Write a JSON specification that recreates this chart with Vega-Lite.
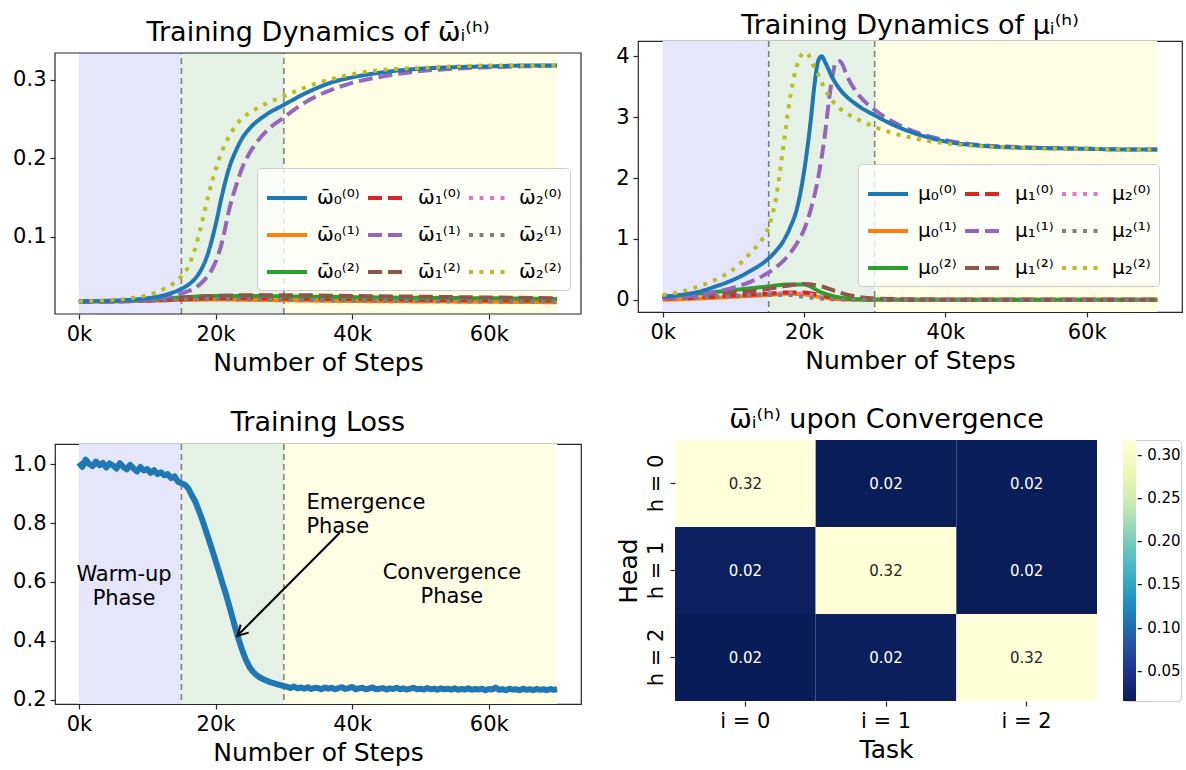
{
"$schema": "https://vega.github.io/schema/vega-lite/v6.json",
"background": "white",
"padding": {"left": 12, "top": 11, "right": 0, "bottom": 0},
"datasets": {
"phases": [
{"x": 0, "x2": 15000, "p": "warm"},
{"x": 15000, "x2": 30000, "p": "emerge"},
{"x": 30000, "x2": 70000, "p": "conv"}
],
"frame": [{"x": -3500, "x2": 73500}],
"splits": [{"x": 15000}, {"x": 30000}],
"omega": [
{"s":"ω̄₀⁽¹⁾","x":0,"y":0.018},{"s":"ω̄₀⁽¹⁾","x":5000,"y":0.018},{"s":"ω̄₀⁽¹⁾","x":10000,"y":0.019},{"s":"ω̄₀⁽¹⁾","x":15000,"y":0.020},{"s":"ω̄₀⁽¹⁾","x":20000,"y":0.0205},{"s":"ω̄₀⁽¹⁾","x":25000,"y":0.020},{"s":"ω̄₀⁽¹⁾","x":30000,"y":0.0195},{"s":"ω̄₀⁽¹⁾","x":40000,"y":0.0185},{"s":"ω̄₀⁽¹⁾","x":50000,"y":0.018},{"s":"ω̄₀⁽¹⁾","x":60000,"y":0.0175},{"s":"ω̄₀⁽¹⁾","x":70000,"y":0.017},
{"s":"ω̄₁⁽⁰⁾","x":0,"y":0.018},{"s":"ω̄₁⁽⁰⁾","x":5000,"y":0.018},{"s":"ω̄₁⁽⁰⁾","x":10000,"y":0.019},{"s":"ω̄₁⁽⁰⁾","x":15000,"y":0.0205},{"s":"ω̄₁⁽⁰⁾","x":20000,"y":0.022},{"s":"ω̄₁⁽⁰⁾","x":25000,"y":0.022},{"s":"ω̄₁⁽⁰⁾","x":30000,"y":0.0215},{"s":"ω̄₁⁽⁰⁾","x":40000,"y":0.021},{"s":"ω̄₁⁽⁰⁾","x":50000,"y":0.020},{"s":"ω̄₁⁽⁰⁾","x":60000,"y":0.0195},{"s":"ω̄₁⁽⁰⁾","x":70000,"y":0.019},
{"s":"ω̄₂⁽⁰⁾","x":0,"y":0.018},{"s":"ω̄₂⁽⁰⁾","x":5000,"y":0.018},{"s":"ω̄₂⁽⁰⁾","x":10000,"y":0.019},{"s":"ω̄₂⁽⁰⁾","x":15000,"y":0.020},{"s":"ω̄₂⁽⁰⁾","x":20000,"y":0.021},{"s":"ω̄₂⁽⁰⁾","x":25000,"y":0.021},{"s":"ω̄₂⁽⁰⁾","x":30000,"y":0.0205},{"s":"ω̄₂⁽⁰⁾","x":40000,"y":0.020},{"s":"ω̄₂⁽⁰⁾","x":50000,"y":0.0195},{"s":"ω̄₂⁽⁰⁾","x":60000,"y":0.019},{"s":"ω̄₂⁽⁰⁾","x":70000,"y":0.0185},
{"s":"ω̄₀⁽²⁾","x":0,"y":0.018},{"s":"ω̄₀⁽²⁾","x":5000,"y":0.0185},{"s":"ω̄₀⁽²⁾","x":10000,"y":0.020},{"s":"ω̄₀⁽²⁾","x":15000,"y":0.023},{"s":"ω̄₀⁽²⁾","x":20000,"y":0.025},{"s":"ω̄₀⁽²⁾","x":25000,"y":0.025},{"s":"ω̄₀⁽²⁾","x":30000,"y":0.0245},{"s":"ω̄₀⁽²⁾","x":40000,"y":0.0235},{"s":"ω̄₀⁽²⁾","x":50000,"y":0.0225},{"s":"ω̄₀⁽²⁾","x":60000,"y":0.022},{"s":"ω̄₀⁽²⁾","x":70000,"y":0.021},
{"s":"ω̄₁⁽²⁾","x":0,"y":0.018},{"s":"ω̄₁⁽²⁾","x":5000,"y":0.0185},{"s":"ω̄₁⁽²⁾","x":10000,"y":0.020},{"s":"ω̄₁⁽²⁾","x":15000,"y":0.023},{"s":"ω̄₁⁽²⁾","x":20000,"y":0.025},{"s":"ω̄₁⁽²⁾","x":25000,"y":0.026},{"s":"ω̄₁⁽²⁾","x":30000,"y":0.026},{"s":"ω̄₁⁽²⁾","x":40000,"y":0.025},{"s":"ω̄₁⁽²⁾","x":50000,"y":0.024},{"s":"ω̄₁⁽²⁾","x":60000,"y":0.023},{"s":"ω̄₁⁽²⁾","x":70000,"y":0.022},
{"s":"ω̄₂⁽¹⁾","x":0,"y":0.018},{"s":"ω̄₂⁽¹⁾","x":5000,"y":0.018},{"s":"ω̄₂⁽¹⁾","x":10000,"y":0.019},{"s":"ω̄₂⁽¹⁾","x":15000,"y":0.020},{"s":"ω̄₂⁽¹⁾","x":20000,"y":0.021},{"s":"ω̄₂⁽¹⁾","x":25000,"y":0.0205},{"s":"ω̄₂⁽¹⁾","x":30000,"y":0.020},{"s":"ω̄₂⁽¹⁾","x":40000,"y":0.019},{"s":"ω̄₂⁽¹⁾","x":50000,"y":0.0185},{"s":"ω̄₂⁽¹⁾","x":60000,"y":0.018},{"s":"ω̄₂⁽¹⁾","x":70000,"y":0.018},
{"s":"ω̄₁⁽¹⁾","x":0,"y":0.018},{"s":"ω̄₁⁽¹⁾","x":2500,"y":0.018},{"s":"ω̄₁⁽¹⁾","x":5000,"y":0.0185},{"s":"ω̄₁⁽¹⁾","x":7500,"y":0.019},{"s":"ω̄₁⁽¹⁾","x":10000,"y":0.020},{"s":"ω̄₁⁽¹⁾","x":12500,"y":0.023},{"s":"ω̄₁⁽¹⁾","x":15000,"y":0.028},{"s":"ω̄₁⁽¹⁾","x":16000,"y":0.031},{"s":"ω̄₁⁽¹⁾","x":17000,"y":0.035},{"s":"ω̄₁⁽¹⁾","x":18000,"y":0.042},{"s":"ω̄₁⁽¹⁾","x":19000,"y":0.052},{"s":"ω̄₁⁽¹⁾","x":20000,"y":0.068},{"s":"ω̄₁⁽¹⁾","x":21000,"y":0.095},{"s":"ω̄₁⁽¹⁾","x":22000,"y":0.135},{"s":"ω̄₁⁽¹⁾","x":23000,"y":0.165},{"s":"ω̄₁⁽¹⁾","x":24000,"y":0.190},{"s":"ω̄₁⁽¹⁾","x":25000,"y":0.207},{"s":"ω̄₁⁽¹⁾","x":27500,"y":0.235},{"s":"ω̄₁⁽¹⁾","x":30000,"y":0.252},{"s":"ω̄₁⁽¹⁾","x":32500,"y":0.268},{"s":"ω̄₁⁽¹⁾","x":35000,"y":0.280},{"s":"ω̄₁⁽¹⁾","x":37500,"y":0.289},{"s":"ω̄₁⁽¹⁾","x":40000,"y":0.296},{"s":"ω̄₁⁽¹⁾","x":45000,"y":0.305},{"s":"ω̄₁⁽¹⁾","x":50000,"y":0.311},{"s":"ω̄₁⁽¹⁾","x":55000,"y":0.314},{"s":"ω̄₁⁽¹⁾","x":60000,"y":0.316},{"s":"ω̄₁⁽¹⁾","x":65000,"y":0.317},{"s":"ω̄₁⁽¹⁾","x":70000,"y":0.318},
{"s":"ω̄₀⁽⁰⁾","x":0,"y":0.018},{"s":"ω̄₀⁽⁰⁾","x":2500,"y":0.0185},{"s":"ω̄₀⁽⁰⁾","x":5000,"y":0.019},{"s":"ω̄₀⁽⁰⁾","x":7500,"y":0.020},{"s":"ω̄₀⁽⁰⁾","x":10000,"y":0.022},{"s":"ω̄₀⁽⁰⁾","x":12500,"y":0.026},{"s":"ω̄₀⁽⁰⁾","x":15000,"y":0.034},{"s":"ω̄₀⁽⁰⁾","x":16000,"y":0.039},{"s":"ω̄₀⁽⁰⁾","x":17000,"y":0.047},{"s":"ω̄₀⁽⁰⁾","x":18000,"y":0.060},{"s":"ω̄₀⁽⁰⁾","x":19000,"y":0.082},{"s":"ω̄₀⁽⁰⁾","x":20000,"y":0.115},{"s":"ω̄₀⁽⁰⁾","x":21000,"y":0.155},{"s":"ω̄₀⁽⁰⁾","x":22000,"y":0.188},{"s":"ω̄₀⁽⁰⁾","x":23000,"y":0.210},{"s":"ω̄₀⁽⁰⁾","x":24000,"y":0.227},{"s":"ω̄₀⁽⁰⁾","x":25000,"y":0.238},{"s":"ω̄₀⁽⁰⁾","x":27500,"y":0.256},{"s":"ω̄₀⁽⁰⁾","x":30000,"y":0.268},{"s":"ω̄₀⁽⁰⁾","x":32500,"y":0.280},{"s":"ω̄₀⁽⁰⁾","x":35000,"y":0.290},{"s":"ω̄₀⁽⁰⁾","x":37500,"y":0.298},{"s":"ω̄₀⁽⁰⁾","x":40000,"y":0.303},{"s":"ω̄₀⁽⁰⁾","x":45000,"y":0.310},{"s":"ω̄₀⁽⁰⁾","x":50000,"y":0.314},{"s":"ω̄₀⁽⁰⁾","x":55000,"y":0.316},{"s":"ω̄₀⁽⁰⁾","x":60000,"y":0.317},{"s":"ω̄₀⁽⁰⁾","x":65000,"y":0.318},{"s":"ω̄₀⁽⁰⁾","x":70000,"y":0.318},
{"s":"ω̄₂⁽²⁾","x":0,"y":0.018},{"s":"ω̄₂⁽²⁾","x":2500,"y":0.019},{"s":"ω̄₂⁽²⁾","x":5000,"y":0.020},{"s":"ω̄₂⁽²⁾","x":7500,"y":0.022},{"s":"ω̄₂⁽²⁾","x":10000,"y":0.026},{"s":"ω̄₂⁽²⁾","x":12500,"y":0.034},{"s":"ω̄₂⁽²⁾","x":15000,"y":0.050},{"s":"ω̄₂⁽²⁾","x":16000,"y":0.062},{"s":"ω̄₂⁽²⁾","x":17000,"y":0.085},{"s":"ω̄₂⁽²⁾","x":18000,"y":0.118},{"s":"ω̄₂⁽²⁾","x":19000,"y":0.155},{"s":"ω̄₂⁽²⁾","x":20000,"y":0.185},{"s":"ω̄₂⁽²⁾","x":21000,"y":0.210},{"s":"ω̄₂⁽²⁾","x":22000,"y":0.228},{"s":"ω̄₂⁽²⁾","x":23000,"y":0.242},{"s":"ω̄₂⁽²⁾","x":24000,"y":0.252},{"s":"ω̄₂⁽²⁾","x":25000,"y":0.258},{"s":"ω̄₂⁽²⁾","x":27500,"y":0.270},{"s":"ω̄₂⁽²⁾","x":30000,"y":0.279},{"s":"ω̄₂⁽²⁾","x":32500,"y":0.288},{"s":"ω̄₂⁽²⁾","x":35000,"y":0.296},{"s":"ω̄₂⁽²⁾","x":37500,"y":0.302},{"s":"ω̄₂⁽²⁾","x":40000,"y":0.307},{"s":"ω̄₂⁽²⁾","x":45000,"y":0.313},{"s":"ω̄₂⁽²⁾","x":50000,"y":0.315},{"s":"ω̄₂⁽²⁾","x":55000,"y":0.317},{"s":"ω̄₂⁽²⁾","x":60000,"y":0.318},{"s":"ω̄₂⁽²⁾","x":65000,"y":0.318},{"s":"ω̄₂⁽²⁾","x":70000,"y":0.318}
],
"mu": [
{"s":"μ₀⁽¹⁾","x":0,"y":0.0},{"s":"μ₀⁽¹⁾","x":5000,"y":0.02},{"s":"μ₀⁽¹⁾","x":10000,"y":0.05},{"s":"μ₀⁽¹⁾","x":15000,"y":0.08},{"s":"μ₀⁽¹⁾","x":17500,"y":0.10},{"s":"μ₀⁽¹⁾","x":20000,"y":0.09},{"s":"μ₀⁽¹⁾","x":22500,"y":0.04},{"s":"μ₀⁽¹⁾","x":25000,"y":0.01},{"s":"μ₀⁽¹⁾","x":27500,"y":0.003},{"s":"μ₀⁽¹⁾","x":30000,"y":0.001},{"s":"μ₀⁽¹⁾","x":40000,"y":0},{"s":"μ₀⁽¹⁾","x":50000,"y":0},{"s":"μ₀⁽¹⁾","x":60000,"y":0},{"s":"μ₀⁽¹⁾","x":70000,"y":0},
{"s":"μ₁⁽⁰⁾","x":0,"y":0.02},{"s":"μ₁⁽⁰⁾","x":5000,"y":0.04},{"s":"μ₁⁽⁰⁾","x":10000,"y":0.07},{"s":"μ₁⁽⁰⁾","x":15000,"y":0.10},{"s":"μ₁⁽⁰⁾","x":17500,"y":0.12},{"s":"μ₁⁽⁰⁾","x":20000,"y":0.12},{"s":"μ₁⁽⁰⁾","x":22500,"y":0.07},{"s":"μ₁⁽⁰⁾","x":25000,"y":0.03},{"s":"μ₁⁽⁰⁾","x":27500,"y":0.01},{"s":"μ₁⁽⁰⁾","x":30000,"y":0.003},{"s":"μ₁⁽⁰⁾","x":40000,"y":0},{"s":"μ₁⁽⁰⁾","x":50000,"y":0},{"s":"μ₁⁽⁰⁾","x":60000,"y":0},{"s":"μ₁⁽⁰⁾","x":70000,"y":0},
{"s":"μ₂⁽⁰⁾","x":0,"y":0.02},{"s":"μ₂⁽⁰⁾","x":5000,"y":0.04},{"s":"μ₂⁽⁰⁾","x":10000,"y":0.07},{"s":"μ₂⁽⁰⁾","x":15000,"y":0.10},{"s":"μ₂⁽⁰⁾","x":17500,"y":0.11},{"s":"μ₂⁽⁰⁾","x":20000,"y":0.10},{"s":"μ₂⁽⁰⁾","x":22500,"y":0.05},{"s":"μ₂⁽⁰⁾","x":25000,"y":0.02},{"s":"μ₂⁽⁰⁾","x":27500,"y":0.005},{"s":"μ₂⁽⁰⁾","x":30000,"y":0.001},{"s":"μ₂⁽⁰⁾","x":40000,"y":0},{"s":"μ₂⁽⁰⁾","x":50000,"y":0},{"s":"μ₂⁽⁰⁾","x":60000,"y":0},{"s":"μ₂⁽⁰⁾","x":70000,"y":0},
{"s":"μ₀⁽²⁾","x":0,"y":0.05},{"s":"μ₀⁽²⁾","x":5000,"y":0.10},{"s":"μ₀⁽²⁾","x":10000,"y":0.16},{"s":"μ₀⁽²⁾","x":15000,"y":0.22},{"s":"μ₀⁽²⁾","x":17500,"y":0.25},{"s":"μ₀⁽²⁾","x":20000,"y":0.25},{"s":"μ₀⁽²⁾","x":22500,"y":0.12},{"s":"μ₀⁽²⁾","x":25000,"y":0.04},{"s":"μ₀⁽²⁾","x":27500,"y":0.01},{"s":"μ₀⁽²⁾","x":30000,"y":0.005},{"s":"μ₀⁽²⁾","x":40000,"y":0},{"s":"μ₀⁽²⁾","x":50000,"y":0},{"s":"μ₀⁽²⁾","x":60000,"y":0},{"s":"μ₀⁽²⁾","x":70000,"y":0},
{"s":"μ₁⁽²⁾","x":0,"y":0.03},{"s":"μ₁⁽²⁾","x":5000,"y":0.07},{"s":"μ₁⁽²⁾","x":10000,"y":0.12},{"s":"μ₁⁽²⁾","x":15000,"y":0.18},{"s":"μ₁⁽²⁾","x":17500,"y":0.23},{"s":"μ₁⁽²⁾","x":20000,"y":0.26},{"s":"μ₁⁽²⁾","x":22500,"y":0.22},{"s":"μ₁⁽²⁾","x":25000,"y":0.12},{"s":"μ₁⁽²⁾","x":27500,"y":0.05},{"s":"μ₁⁽²⁾","x":30000,"y":0.02},{"s":"μ₁⁽²⁾","x":40000,"y":0.003},{"s":"μ₁⁽²⁾","x":50000,"y":0},{"s":"μ₁⁽²⁾","x":60000,"y":0},{"s":"μ₁⁽²⁾","x":70000,"y":0},
{"s":"μ₂⁽¹⁾","x":0,"y":0.03},{"s":"μ₂⁽¹⁾","x":5000,"y":0.04},{"s":"μ₂⁽¹⁾","x":10000,"y":0.06},{"s":"μ₂⁽¹⁾","x":15000,"y":0.08},{"s":"μ₂⁽¹⁾","x":17500,"y":0.08},{"s":"μ₂⁽¹⁾","x":20000,"y":0.05},{"s":"μ₂⁽¹⁾","x":22500,"y":0.02},{"s":"μ₂⁽¹⁾","x":25000,"y":0.005},{"s":"μ₂⁽¹⁾","x":27500,"y":0.002},{"s":"μ₂⁽¹⁾","x":30000,"y":0},{"s":"μ₂⁽¹⁾","x":40000,"y":0},{"s":"μ₂⁽¹⁾","x":50000,"y":0},{"s":"μ₂⁽¹⁾","x":60000,"y":0},{"s":"μ₂⁽¹⁾","x":70000,"y":0},
{"s":"μ₁⁽¹⁾","x":0,"y":0.03},{"s":"μ₁⁽¹⁾","x":2500,"y":0.05},{"s":"μ₁⁽¹⁾","x":5000,"y":0.08},{"s":"μ₁⁽¹⁾","x":7500,"y":0.13},{"s":"μ₁⁽¹⁾","x":10000,"y":0.20},{"s":"μ₁⁽¹⁾","x":12500,"y":0.30},{"s":"μ₁⁽¹⁾","x":15000,"y":0.45},{"s":"μ₁⁽¹⁾","x":16000,"y":0.53},{"s":"μ₁⁽¹⁾","x":17000,"y":0.63},{"s":"μ₁⁽¹⁾","x":18000,"y":0.76},{"s":"μ₁⁽¹⁾","x":19000,"y":0.93},{"s":"μ₁⁽¹⁾","x":20000,"y":1.15},{"s":"μ₁⁽¹⁾","x":21000,"y":1.50},{"s":"μ₁⁽¹⁾","x":22000,"y":2.00},{"s":"μ₁⁽¹⁾","x":23000,"y":2.75},{"s":"μ₁⁽¹⁾","x":23500,"y":3.25},{"s":"μ₁⁽¹⁾","x":24000,"y":3.65},{"s":"μ₁⁽¹⁾","x":24500,"y":3.90},{"s":"μ₁⁽¹⁾","x":25000,"y":3.92},{"s":"μ₁⁽¹⁾","x":25500,"y":3.85},{"s":"μ₁⁽¹⁾","x":26000,"y":3.70},{"s":"μ₁⁽¹⁾","x":27500,"y":3.40},{"s":"μ₁⁽¹⁾","x":30000,"y":3.12},{"s":"μ₁⁽¹⁾","x":32500,"y":2.93},{"s":"μ₁⁽¹⁾","x":35000,"y":2.79},{"s":"μ₁⁽¹⁾","x":37500,"y":2.69},{"s":"μ₁⁽¹⁾","x":40000,"y":2.62},{"s":"μ₁⁽¹⁾","x":45000,"y":2.54},{"s":"μ₁⁽¹⁾","x":50000,"y":2.51},{"s":"μ₁⁽¹⁾","x":55000,"y":2.49},{"s":"μ₁⁽¹⁾","x":60000,"y":2.48},{"s":"μ₁⁽¹⁾","x":65000,"y":2.47},{"s":"μ₁⁽¹⁾","x":70000,"y":2.47},
{"s":"μ₀⁽⁰⁾","x":0,"y":0.05},{"s":"μ₀⁽⁰⁾","x":2500,"y":0.08},{"s":"μ₀⁽⁰⁾","x":5000,"y":0.13},{"s":"μ₀⁽⁰⁾","x":7500,"y":0.22},{"s":"μ₀⁽⁰⁾","x":10000,"y":0.33},{"s":"μ₀⁽⁰⁾","x":12500,"y":0.48},{"s":"μ₀⁽⁰⁾","x":15000,"y":0.68},{"s":"μ₀⁽⁰⁾","x":16000,"y":0.80},{"s":"μ₀⁽⁰⁾","x":17000,"y":0.95},{"s":"μ₀⁽⁰⁾","x":18000,"y":1.18},{"s":"μ₀⁽⁰⁾","x":19000,"y":1.50},{"s":"μ₀⁽⁰⁾","x":20000,"y":2.10},{"s":"μ₀⁽⁰⁾","x":21000,"y":3.00},{"s":"μ₀⁽⁰⁾","x":21500,"y":3.55},{"s":"μ₀⁽⁰⁾","x":22000,"y":3.92},{"s":"μ₀⁽⁰⁾","x":22500,"y":4.00},{"s":"μ₀⁽⁰⁾","x":23000,"y":3.90},{"s":"μ₀⁽⁰⁾","x":24000,"y":3.65},{"s":"μ₀⁽⁰⁾","x":25000,"y":3.47},{"s":"μ₀⁽⁰⁾","x":27500,"y":3.20},{"s":"μ₀⁽⁰⁾","x":30000,"y":3.03},{"s":"μ₀⁽⁰⁾","x":32500,"y":2.88},{"s":"μ₀⁽⁰⁾","x":35000,"y":2.76},{"s":"μ₀⁽⁰⁾","x":37500,"y":2.67},{"s":"μ₀⁽⁰⁾","x":40000,"y":2.60},{"s":"μ₀⁽⁰⁾","x":45000,"y":2.53},{"s":"μ₀⁽⁰⁾","x":50000,"y":2.50},{"s":"μ₀⁽⁰⁾","x":55000,"y":2.49},{"s":"μ₀⁽⁰⁾","x":60000,"y":2.48},{"s":"μ₀⁽⁰⁾","x":65000,"y":2.47},{"s":"μ₀⁽⁰⁾","x":70000,"y":2.47},
{"s":"μ₂⁽²⁾","x":0,"y":0.08},{"s":"μ₂⁽²⁾","x":2500,"y":0.13},{"s":"μ₂⁽²⁾","x":5000,"y":0.22},{"s":"μ₂⁽²⁾","x":7500,"y":0.33},{"s":"μ₂⁽²⁾","x":10000,"y":0.50},{"s":"μ₂⁽²⁾","x":12500,"y":0.78},{"s":"μ₂⁽²⁾","x":14000,"y":0.98},{"s":"μ₂⁽²⁾","x":15000,"y":1.20},{"s":"μ₂⁽²⁾","x":16000,"y":1.65},{"s":"μ₂⁽²⁾","x":17000,"y":2.45},{"s":"μ₂⁽²⁾","x":18000,"y":3.30},{"s":"μ₂⁽²⁾","x":19000,"y":3.85},{"s":"μ₂⁽²⁾","x":20000,"y":4.05},{"s":"μ₂⁽²⁾","x":20500,"y":4.05},{"s":"μ₂⁽²⁾","x":21000,"y":3.92},{"s":"μ₂⁽²⁾","x":22000,"y":3.70},{"s":"μ₂⁽²⁾","x":23000,"y":3.45},{"s":"μ₂⁽²⁾","x":24000,"y":3.27},{"s":"μ₂⁽²⁾","x":25000,"y":3.15},{"s":"μ₂⁽²⁾","x":27500,"y":2.97},{"s":"μ₂⁽²⁾","x":30000,"y":2.84},{"s":"μ₂⁽²⁾","x":32500,"y":2.74},{"s":"μ₂⁽²⁾","x":35000,"y":2.67},{"s":"μ₂⁽²⁾","x":37500,"y":2.61},{"s":"μ₂⁽²⁾","x":40000,"y":2.57},{"s":"μ₂⁽²⁾","x":45000,"y":2.52},{"s":"μ₂⁽²⁾","x":50000,"y":2.50},{"s":"μ₂⁽²⁾","x":55000,"y":2.48},{"s":"μ₂⁽²⁾","x":60000,"y":2.48},{"s":"μ₂⁽²⁾","x":65000,"y":2.47},{"s":"μ₂⁽²⁾","x":70000,"y":2.47}
],
"loss": [
{"x":0,"y":1.005},{"x":500,"y":0.99},{"x":1000,"y":1.015},{"x":1500,"y":1.0},{"x":2000,"y":0.993},{"x":2500,"y":1.008},{"x":3000,"y":0.996},{"x":3500,"y":1.004},{"x":4000,"y":0.988},{"x":4500,"y":1.002},{"x":5000,"y":0.995},{"x":5500,"y":0.985},{"x":6000,"y":1.003},{"x":6500,"y":0.99},{"x":7000,"y":0.982},{"x":7500,"y":0.997},{"x":8000,"y":0.985},{"x":8500,"y":0.975},{"x":9000,"y":0.99},{"x":9500,"y":0.978},{"x":10000,"y":0.983},{"x":10500,"y":0.97},{"x":11000,"y":0.979},{"x":11500,"y":0.966},{"x":12000,"y":0.972},{"x":12500,"y":0.962},{"x":13000,"y":0.966},{"x":13500,"y":0.952},{"x":14000,"y":0.958},{"x":14500,"y":0.94},{"x":15000,"y":0.935},{"x":15500,"y":0.93},{"x":16000,"y":0.918},{"x":16500,"y":0.895},{"x":17000,"y":0.875},{"x":17500,"y":0.845},{"x":18000,"y":0.815},{"x":18500,"y":0.78},{"x":19000,"y":0.745},{"x":19500,"y":0.71},{"x":20000,"y":0.672},{"x":20500,"y":0.635},{"x":21000,"y":0.597},{"x":21500,"y":0.56},{"x":22000,"y":0.52},{"x":22500,"y":0.478},{"x":23000,"y":0.435},{"x":23500,"y":0.397},{"x":24000,"y":0.362},{"x":24500,"y":0.333},{"x":25000,"y":0.31},{"x":25500,"y":0.295},{"x":26000,"y":0.284},{"x":26500,"y":0.276},{"x":27000,"y":0.27},{"x":27500,"y":0.265},{"x":28000,"y":0.26},{"x":28500,"y":0.257},{"x":29000,"y":0.253},{"x":29500,"y":0.25},{"x":30000,"y":0.247},
{"x":30500,"y":0.244},{"x":31000,"y":0.24},{"x":31500,"y":0.245},{"x":32000,"y":0.239},{"x":32500,"y":0.242},{"x":33000,"y":0.238},{"x":33500,"y":0.243},{"x":34000,"y":0.237},{"x":34500,"y":0.241},{"x":35000,"y":0.24},{"x":35500,"y":0.236},{"x":36000,"y":0.242},{"x":36500,"y":0.238},{"x":37000,"y":0.241},{"x":37500,"y":0.236},{"x":38000,"y":0.24},{"x":38500,"y":0.243},{"x":39000,"y":0.237},{"x":39500,"y":0.24},{"x":40000,"y":0.244},{"x":40500,"y":0.236},{"x":41000,"y":0.239},{"x":41500,"y":0.241},{"x":42000,"y":0.236},{"x":42500,"y":0.239},{"x":43000,"y":0.242},{"x":43500,"y":0.236},{"x":44000,"y":0.238},{"x":44500,"y":0.24},{"x":45000,"y":0.235},{"x":45500,"y":0.239},{"x":46000,"y":0.237},{"x":46500,"y":0.241},{"x":47000,"y":0.236},{"x":47500,"y":0.239},{"x":48000,"y":0.235},{"x":48500,"y":0.238},{"x":49000,"y":0.241},{"x":49500,"y":0.236},{"x":50000,"y":0.238},{"x":50500,"y":0.235},{"x":51000,"y":0.24},{"x":51500,"y":0.236},{"x":52000,"y":0.238},{"x":52500,"y":0.234},{"x":53000,"y":0.239},{"x":53500,"y":0.236},{"x":54000,"y":0.238},{"x":54500,"y":0.235},{"x":55000,"y":0.239},{"x":55500,"y":0.234},{"x":56000,"y":0.237},{"x":56500,"y":0.235},{"x":57000,"y":0.239},{"x":57500,"y":0.234},{"x":58000,"y":0.237},{"x":58500,"y":0.235},{"x":59000,"y":0.238},{"x":59500,"y":0.233},{"x":60000,"y":0.237},{"x":60500,"y":0.235},{"x":61000,"y":0.242},{"x":61500,"y":0.234},{"x":62000,"y":0.236},{"x":62500,"y":0.233},{"x":63000,"y":0.238},{"x":63500,"y":0.235},{"x":64000,"y":0.236},{"x":64500,"y":0.233},{"x":65000,"y":0.238},{"x":65500,"y":0.234},{"x":66000,"y":0.236},{"x":66500,"y":0.233},{"x":67000,"y":0.237},{"x":67500,"y":0.234},{"x":68000,"y":0.236},{"x":68500,"y":0.233},{"x":69000,"y":0.237},{"x":69500,"y":0.234},{"x":70000,"y":0.236}
],
"heat": [
{"task":"i = 0","head":"h = 0","v":0.317},{"task":"i = 1","head":"h = 0","v":0.016},{"task":"i = 2","head":"h = 0","v":0.017},
{"task":"i = 0","head":"h = 1","v":0.020},{"task":"i = 1","head":"h = 1","v":0.316},{"task":"i = 2","head":"h = 1","v":0.016},
{"task":"i = 0","head":"h = 2","v":0.0153},{"task":"i = 1","head":"h = 2","v":0.018},{"task":"i = 2","head":"h = 2","v":0.316}
]
},
"resolve": {"scale": {"color": "independent", "strokeDash": "independent"}, "legend": {"color": "independent", "strokeDash": "independent"}},
"spacing": 33,
"hconcat": [
{
"spacing": 33,
"resolve": {"scale": {"color": "independent", "strokeDash": "independent"}, "legend": {"color": "independent", "strokeDash": "independent"}},
"vconcat": [
{
"width": 526,
"height": 273,
"title": {"text": "Training Dynamics of ω̄ᵢ⁽ʰ⁾", "offset": -6},
"view": {"stroke": null},
"encoding": {
"x": {"field": "x", "type": "quantitative", "scale": {"domain": [-3500, 73500], "nice": false, "zero": false}, "axis": {"values": [0, 20000, 40000, 60000], "labelExpr": "datum.value / 1000 + 'k'", "title": "Number of Steps"}}
},
"layer": [
{"data": {"name": "phases"}, "mark": {"type": "rect"}, "encoding": {"x2": {"field": "x2"}, "y": {"datum": 0.002, "type": "quantitative"}, "y2": {"datum": 0.334}, "fill": {"field": "p", "type": "nominal", "scale": {"domain": ["warm", "emerge", "conv"], "range": ["#e5e5fc", "#e5f1e5", "#fefee5"]}, "legend": null}}},
{"data": {"name": "splits"}, "mark": {"type": "rule", "color": "#808080", "strokeDash": [6, 4], "strokeWidth": 1.6}, "encoding": {"y": {"datum": 0.002, "type": "quantitative"}, "y2": {"datum": 0.334}}},
{"data": {"name": "omega"}, "mark": {"type": "line", "strokeWidth": 4, "interpolate": "monotone"},
"encoding": {
"y": {"field": "y", "type": "quantitative", "scale": {"domain": [0.002, 0.334], "range": [273, 12], "nice": false, "zero": false}, "axis": {"values": [0.1, 0.2, 0.3], "format": ".1f", "title": null}},
"color": {"field": "s", "type": "nominal",
"scale": {"domain": ["ω̄₀⁽⁰⁾","ω̄₁⁽⁰⁾","ω̄₂⁽⁰⁾","ω̄₀⁽¹⁾","ω̄₁⁽¹⁾","ω̄₂⁽¹⁾","ω̄₀⁽²⁾","ω̄₁⁽²⁾","ω̄₂⁽²⁾"], "range": ["#1f77b4","#d62728","#e377c2","#ff7f0e","#9467bd","#7f7f7f","#2ca02c","#8c564b","#bcbd22"]},
"legend": {"orient": "none", "legendX": 202, "legendY": 127, "columns": 3, "direction": "horizontal", "title": null}},
"strokeDash": {"field": "s", "type": "nominal",
"scale": {"domain": ["ω̄₀⁽⁰⁾","ω̄₁⁽⁰⁾","ω̄₂⁽⁰⁾","ω̄₀⁽¹⁾","ω̄₁⁽¹⁾","ω̄₂⁽¹⁾","ω̄₀⁽²⁾","ω̄₁⁽²⁾","ω̄₂⁽²⁾"], "range": [[1,0],[14,6],[4,6.5],[1,0],[14,6],[4,6.5],[1,0],[14,6],[4,6.5]]},
"legend": {"orient": "none", "legendX": 202, "legendY": 127, "columns": 3, "direction": "horizontal", "title": null}}
}},
{"data": {"name": "frame"}, "mark": {"type": "rect", "filled": false, "color": "#262626", "strokeWidth": 1.2}, "encoding": {"x2": {"field": "x2"}, "y": {"datum": 0.002, "type": "quantitative"}, "y2": {"datum": 0.334}}}
]
},
{
"width": 526,
"height": 260,
"title": "Training Loss",
"encoding": {
"x": {"field": "x", "type": "quantitative", "scale": {"domain": [-3500, 73500], "nice": false, "zero": false}, "axis": {"values": [0, 20000, 40000, 60000], "labelExpr": "datum.value / 1000 + 'k'", "title": "Number of Steps"}},
"y": {"field": "y", "type": "quantitative", "scale": {"domain": [0.186, 1.068], "nice": false, "zero": false}, "axis": {"values": [0.2, 0.4, 0.6, 0.8, 1.0], "format": ".1f", "title": null}}
},
"layer": [
{"data": {"name": "phases"}, "mark": {"type": "rect"}, "encoding": {"y": null, "x2": {"field": "x2"}, "fill": {"field": "p", "type": "nominal", "scale": {"domain": ["warm", "emerge", "conv"], "range": ["#e5e5fc", "#e5f1e5", "#fefee5"]}, "legend": null}}},
{"data": {"name": "splits"}, "mark": {"type": "rule", "color": "#808080", "strokeDash": [6, 4], "strokeWidth": 1.6}, "encoding": {"y": null}},
{"data": {"name": "loss"}, "mark": {"type": "line", "color": "#1f77b4", "strokeWidth": 6, "strokeJoin": "round"}},
{"data": {"values": [{"x": 38200, "y": 0.767}, {"x": 23300, "y": 0.42}]}, "mark": {"type": "line", "color": "black", "strokeWidth": 2}},
{"data": {"values": [{"x": 23200, "y": 0.417}]}, "mark": {"type": "point", "shape": "M -0.55 1 L 0 0 L 0.55 1", "filled": false, "stroke": "black", "strokeWidth": 2, "size": 420, "angle": 225, "opacity": 1}},
{"data": {"values": [{"x": 6600, "y": 0.625, "t": "Warm-up\nPhase"}, {"x": 54600, "y": 0.629, "t": "Convergence\nPhase"}]}, "mark": {"type": "text", "fontSize": 21, "lineBreak": "\n", "lineHeight": 24, "align": "center", "baseline": "middle", "color": "black"}, "encoding": {"text": {"field": "t"}}},
{"data": {"values": [{"x": 33300, "y": 0.869, "t": "Emergence\nPhase"}]}, "mark": {"type": "text", "fontSize": 21, "lineBreak": "\n", "lineHeight": 24, "align": "left", "baseline": "middle", "color": "black"}, "encoding": {"text": {"field": "t"}}}
]
}
]
},
{
"spacing": 31,
"resolve": {"scale": {"color": "independent", "strokeDash": "independent"}, "legend": {"color": "independent", "strokeDash": "independent"}},
"vconcat": [
{
"width": 544,
"height": 271,
"title": {"text": "Training Dynamics of μᵢ⁽ʰ⁾", "offset": 0},
"encoding": {
"x": {"field": "x", "type": "quantitative", "scale": {"domain": [-3500, 73500], "nice": false, "zero": false}, "axis": {"values": [0, 20000, 40000, 60000], "labelExpr": "datum.value / 1000 + 'k'", "title": "Number of Steps"}}
},
"layer": [
{"data": {"name": "phases"}, "mark": {"type": "rect"}, "encoding": {"x2": {"field": "x2"}, "fill": {"field": "p", "type": "nominal", "scale": {"domain": ["warm", "emerge", "conv"], "range": ["#e5e5fc", "#e5f1e5", "#fefee5"]}, "legend": null}}},
{"data": {"name": "splits"}, "mark": {"type": "rule", "color": "#808080", "strokeDash": [6, 4], "strokeWidth": 1.6}, "encoding": {}},
{"data": {"name": "mu"}, "mark": {"type": "line", "strokeWidth": 4, "interpolate": "monotone"},
"encoding": {
"y": {"field": "y", "type": "quantitative", "scale": {"domain": [-0.2, 4.25], "nice": false, "zero": false}, "axis": {"values": [0, 1, 2, 3, 4], "format": "d", "title": null}},
"color": {"field": "s", "type": "nominal",
"scale": {"domain": ["μ₀⁽⁰⁾","μ₁⁽⁰⁾","μ₂⁽⁰⁾","μ₀⁽¹⁾","μ₁⁽¹⁾","μ₂⁽¹⁾","μ₀⁽²⁾","μ₁⁽²⁾","μ₂⁽²⁾"], "range": ["#1f77b4","#d62728","#e377c2","#ff7f0e","#9467bd","#7f7f7f","#2ca02c","#8c564b","#bcbd22"]},
"legend": {"orient": "none", "legendX": 220, "legendY": 123, "columns": 3, "direction": "horizontal", "title": null}},
"strokeDash": {"field": "s", "type": "nominal",
"scale": {"domain": ["μ₀⁽⁰⁾","μ₁⁽⁰⁾","μ₂⁽⁰⁾","μ₀⁽¹⁾","μ₁⁽¹⁾","μ₂⁽¹⁾","μ₀⁽²⁾","μ₁⁽²⁾","μ₂⁽²⁾"], "range": [[1,0],[14,6],[4,6.5],[1,0],[14,6],[4,6.5],[1,0],[14,6],[4,6.5]]},
"legend": {"orient": "none", "legendX": 220, "legendY": 123, "columns": 3, "direction": "horizontal", "title": null}}
}}
]
},
{
"width": 459,
"height": 261,
"title": {"text": "ω̅ᵢ⁽ʰ⁾ upon Convergence", "dx": 19},
"view": {"stroke": null},
"data": {"name": "heat"},
"encoding": {
"x": {"field": "task", "type": "nominal", "scale": {"range": [37, 459], "paddingInner": 0, "paddingOuter": 0}, "axis": {"title": "Task", "labelAngle": 0}},
"y": {"field": "head", "type": "nominal", "scale": {"paddingInner": 0, "paddingOuter": 0}, "axis": {"title": "Head", "labelAngle": 270, "labelAlign": "center", "labelBaseline": "bottom", "offset": -37, "titlePadding": 4}}
},
"layer": [
{"mark": {"type": "rect"}, "encoding": {"color": {"field": "v", "type": "quantitative",
"scale": {"domain": [0.0153, 0.053, 0.0907, 0.1284, 0.1662, 0.2039, 0.2416, 0.2793, 0.317], "range": ["#081d58", "#253494", "#225ea8", "#1d91c0", "#41b6c4", "#7fcdbb", "#c7e9b4", "#edf8b1", "#ffffd9"], "interpolate": "rgb"},
"legend": {"orient": "right", "offset": 26, "title": null, "direction": "vertical", "gradientLength": 261, "gradientThickness": 13, "gradientStrokeWidth": 0, "values": [0.05, 0.1, 0.15, 0.2, 0.25, 0.3], "labelExpr": "'- ' + format(datum.value, '.2f')", "labelFontSize": 15, "labelOffset": 1, "labelOverlap": false, "padding": 0, "fillColor": null, "strokeColor": null}}}},
{"mark": {"type": "text", "fontSize": 15}, "encoding": {"text": {"field": "v", "format": ".2f"}, "color": {"condition": {"test": "datum.v > 0.17", "value": "#262626"}, "value": "white"}}}
]
}
]
}
],
"config": {
"font": "DejaVu Sans",
"view": {"stroke": "#262626", "strokeWidth": 1.2},
"axis": {"grid": false, "domain": false, "tickColor": "#262626", "tickSize": 5, "tickWidth": 1.2, "labelFontSize": 21, "labelColor": "black", "labelPadding": 4, "labelFlush": false, "labelOverlap": false, "titleFontSize": 25, "titleFontWeight": "normal", "titleColor": "black", "titlePadding": 6},
"title": {"fontSize": 27, "fontWeight": "normal", "color": "black", "offset": 6},
"legend": {"symbolType": "stroke", "symbolSize": 1600, "symbolStrokeWidth": 4, "labelFontSize": 20, "labelColor": "black", "labelOffset": 8, "columnPadding": 0, "rowPadding": 5, "padding": 8, "fillColor": "rgba(255,255,255,0.8)", "strokeColor": "#cccccc", "cornerRadius": 4}
}
}
